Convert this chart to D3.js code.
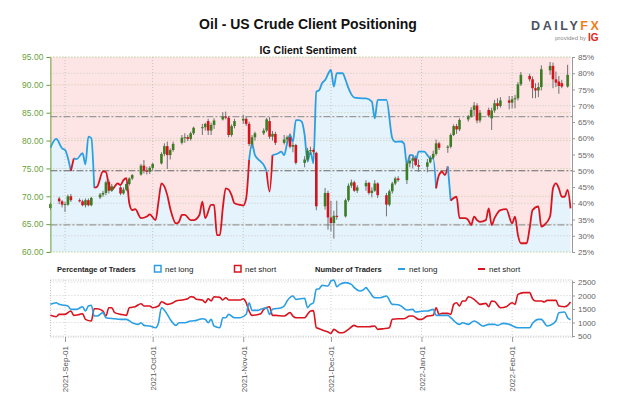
<!DOCTYPE html>
<meta charset="utf-8" />
<style>
  body { margin: 0; background: #fff; }
  text { font-family: "Liberation Sans", Arial, sans-serif; }
</style>
<svg width="624" height="416"></svg>
<script src="https://d3js.org/d3.v7.min.js"></script>
<script>
  // ---------- data ----------
  var priceTicks = [60, 65, 70, 75, 80, 85, 90, 95];
  var pctTicks = [25, 30, 35, 40, 45, 50, 55, 60, 65, 70, 75, 80, 85];
  var countTicks = [500, 1000, 1500, 2000, 2500];
  var monthTicks = ["2021-09-01", "2021-10-01", "2021-11-01", "2021-12-01", "2022-01-01", "2022-02-01"];

  // daily candles (weekdays from first to last day, plus the Sunday open)
  var firstDay = "2021-08-27", lastWeekday = "2022-02-18";
  var extraDays = ["2022-02-20"];
  // [open, high, low, close]
  var ohlc = [
    [67.9,68.9,67.6,68.6],
    [69.6,69.9,68.6,69.1],[69.1,69.3,68.0,68.5],[68.5,69.0,67.2,68.6],[68.5,70.3,68.3,70.0],[70.0,70.4,69.0,69.3],
    [69.3,69.6,68.9,69.1],[69.1,69.4,68.2,68.4],[68.4,69.6,68.0,69.3],[69.3,69.6,68.2,68.4],[68.4,69.9,68.2,69.7],
    [69.8,70.6,69.5,70.3],[70.3,71.0,69.9,70.6],[70.6,72.8,70.2,72.5],[72.6,73.0,70.5,71.0],[71.0,72.2,70.8,71.8],
    [71.6,71.8,70.2,70.5],[70.5,71.6,70.3,71.2],[71.2,72.5,70.9,72.2],[72.2,73.4,71.9,73.2],[73.2,74.0,72.9,73.8],
    [73.9,75.8,73.7,75.5],[75.5,76.5,74.1,74.6],[74.6,75.3,73.9,74.4],[74.4,75.4,74.0,75.1],[75.1,76.0,74.6,75.8],
    [75.9,77.9,75.7,77.6],[77.6,79.5,77.2,79.0],[79.0,79.8,74.9,77.4],[77.4,78.6,76.6,78.3],[78.3,79.8,78.0,79.4],
    [79.6,81.0,79.3,80.5],[80.5,81.3,79.6,80.6],[80.6,81.0,79.9,80.3],[80.3,81.6,80.0,81.3],[81.3,82.5,81.0,82.3],
    [82.3,83.0,81.0,82.4],[82.4,83.2,81.8,83.0],[83.5,83.9,81.0,81.8],[81.8,83.2,81.0,82.8],[82.8,84.0,82.1,83.6],
    [83.8,85.1,83.6,84.3],[84.3,85.2,83.8,84.1],[84.1,84.4,80.6,81.0],[81.0,82.9,80.7,82.6],[82.6,83.9,82.2,83.5],
    [83.6,84.6,83.0,83.9],[83.9,84.3,82.6,83.0],[83.0,83.4,79.0,79.4],[79.3,81.0,78.6,80.6],[80.6,81.6,80.0,81.3],
    [81.3,82.2,81.0,81.8],[81.8,84.1,81.5,83.8],[83.5,84.2,80.3,80.7],[80.7,81.7,80.0,81.2],[81.2,81.6,79.2,79.6],
    [79.6,81.0,79.3,80.2],[80.2,80.9,79.6,80.6],[80.6,81.3,78.6,78.9],[78.9,79.6,77.9,79.2],[79.2,79.4,75.7,76.0],
    [76.0,77.2,75.2,76.6],[76.6,78.7,76.3,78.2],[78.2,78.9,77.4,78.3],[78.3,78.6,77.6,78.0],[77.8,78.0,67.5,68.2],
    [68.2,71.5,67.6,70.6],[70.6,71.0,64.0,66.2],[66.2,69.2,63.7,65.2],[65.2,67.4,62.4,66.5],[66.5,69.2,65.8,66.3],
    [66.4,69.6,66.2,69.3],[69.3,72.3,69.0,71.9],[71.9,73.0,71.5,72.5],[72.5,72.8,70.8,71.0],[71.0,72.0,70.6,71.6],
    [71.8,72.9,71.0,72.4],[72.4,72.6,70.3,70.6],[70.6,71.6,69.8,71.0],[71.0,72.9,70.8,72.3],[72.3,72.5,69.7,70.2],
    [70.2,70.6,66.4,68.5],[68.5,71.2,68.2,70.9],[70.9,72.6,70.5,72.3],[72.3,73.5,72.0,73.2],[73.2,73.6,72.6,72.9],
    [72.9,76.3,72.2,75.9],[75.9,77.4,75.2,76.4],[76.4,77.2,75.0,76.8],[76.8,77.3,75.4,75.6],[75.6,76.6,74.4,75.3],
    [75.3,76.7,74.3,76.1],[76.1,77.3,75.9,76.9],[76.9,78.2,76.6,77.6],[77.6,80.2,77.3,79.5],[79.5,79.8,78.3,78.7],
    [78.7,79.2,77.8,78.9],[78.9,81.3,78.6,81.0],[81.0,82.9,80.8,82.6],[82.6,83.0,81.2,82.0],[82.0,84.0,81.7,83.7],
    [83.8,84.6,83.4,84.3],[84.3,86.0,84.1,85.5],[85.5,86.9,84.4,86.3],[86.3,86.7,83.1,83.6],[83.6,85.5,83.2,85.0],
    [85.5,85.9,84.2,84.5],[84.0,85.9,81.9,85.4],[85.4,87.3,85.0,86.7],[86.7,87.6,85.6,86.2],[86.2,87.8,85.9,87.2],
    [87.2,88.0,85.6,86.8],[86.8,88.0,85.8,87.4],[87.4,88.2,85.8,87.6],[87.6,90.5,87.2,90.1],[90.1,92.3,89.8,91.8],
    [91.6,92.0,90.6,91.0],[91.0,91.5,87.6,89.4],[89.4,90.3,87.6,89.0],[89.0,90.4,87.8,89.6],[89.6,93.5,89.0,92.8],
    [92.6,94.1,91.8,93.4],[93.4,94.0,89.4,91.0],[91.0,92.4,89.6,90.4],[90.6,91.6,88.4,89.8],[90.3,90.9,89.4,89.7],
    [89.7,93.6,89.5,91.8]
  ];

  // % of traders net long
  var pctDates = [
    "2021-08-27","2021-08-29","2021-08-31","2021-09-01","2021-09-03","2021-09-04","2021-09-05","2021-09-07","2021-09-08","2021-09-09",
    "2021-09-10","2021-09-11","2021-09-12","2021-09-14","2021-09-15","2021-09-16","2021-09-17","2021-09-18","2021-09-19","2021-09-20",
    "2021-09-21","2021-09-22","2021-09-23","2021-09-24","2021-09-25","2021-09-27","2021-09-29","2021-09-30","2021-10-02","2021-10-03",
    "2021-10-04","2021-10-06","2021-10-07","2021-10-09","2021-10-10","2021-10-11","2021-10-12","2021-10-14","2021-10-15","2021-10-17",
    "2021-10-18","2021-10-19","2021-10-21","2021-10-22","2021-10-23","2021-10-24","2021-10-25","2021-10-26","2021-10-27","2021-10-28",
    "2021-10-29","2021-10-31","2021-11-01","2021-11-02","2021-11-03","2021-11-04","2021-11-05","2021-11-07","2021-11-08","2021-11-09",
    "2021-11-10","2021-11-11","2021-11-13","2021-11-14","2021-11-15","2021-11-16","2021-11-17","2021-11-18","2021-11-19","2021-11-20",
    "2021-11-21","2021-11-22","2021-11-23","2021-11-24","2021-11-25","2021-11-26","2021-11-27","2021-11-28","2021-11-29","2021-12-01",
    "2021-12-02","2021-12-03","2021-12-05","2021-12-06","2021-12-07","2021-12-08","2021-12-09","2021-12-12","2021-12-13","2021-12-15",
    "2021-12-16","2021-12-17","2021-12-20","2021-12-22","2021-12-23","2021-12-25","2021-12-26","2021-12-27","2021-12-28","2021-12-29",
    "2021-12-30","2021-12-31","2022-01-02","2022-01-03","2022-01-04","2022-01-05","2022-01-06","2022-01-07","2022-01-08","2022-01-09",
    "2022-01-10","2022-01-11","2022-01-13","2022-01-14","2022-01-16","2022-01-17","2022-01-18","2022-01-19","2022-01-20","2022-01-21",
    "2022-01-23","2022-01-24","2022-01-25","2022-01-26","2022-01-28","2022-01-30","2022-02-01","2022-02-02","2022-02-03","2022-02-04",
    "2022-02-06","2022-02-07","2022-02-08","2022-02-10","2022-02-11","2022-02-12","2022-02-14","2022-02-15","2022-02-16","2022-02-17",
    "2022-02-18","2022-02-19","2022-02-20","2022-02-21"
  ];
  var pctLong = [
    57.1,59.8,56.9,56.4,49.9,53.8,53.6,55.4,52.0,60.5,
    60.0,44.8,45.1,49.8,49.6,45.6,44.1,45.1,46.1,45.6,
    47.1,47.7,40.0,37.9,38.2,35.4,35.9,36.6,34.8,40.5,
    46.1,42.5,38.4,33.8,34.3,36.4,36.4,34.8,34.8,36.4,
    40.5,35.4,39.5,39.5,30.2,30.2,38.5,44.6,44.2,42.5,
    40.0,39.5,39.3,41.5,53.3,58.4,54.8,52.8,51.8,49.7,
    43.6,54.8,55.4,55.9,54.8,58.4,61.0,58.9,65.6,65.6,
    65.1,61.0,52.8,55.9,52.3,74.3,74.8,77.0,77.9,81.0,
    75.9,80.0,80.0,78.0,75.4,73.5,72.5,72.3,72.3,71.3,
    66.1,71.8,71.8,60.0,58.9,59.0,58.4,51.8,54.8,54.8,
    52.8,55.9,55.9,54.8,53.8,53.8,44.6,48.7,49.7,48.7,
    51.3,40.8,42.0,35.4,35.4,34.8,33.3,35.9,34.8,34.3,
    34.8,38.4,33.3,35.4,37.9,38.2,33.8,35.9,30.2,27.7,
    27.7,32.3,37.9,39.0,32.8,33.3,35.9,44.6,46.1,44.6,
    42.0,42.0,44.1,38.4
  ];

  // number of traders net long
  var longDates = [
    "2021-08-27","2021-08-29","2021-08-30","2021-09-02","2021-09-03","2021-09-05","2021-09-07","2021-09-08","2021-09-09","2021-09-10",
    "2021-09-11","2021-09-12","2021-09-14","2021-09-15","2021-09-18","2021-09-20","2021-09-22","2021-09-24","2021-09-26","2021-09-27",
    "2021-09-28","2021-09-30","2021-10-02","2021-10-03","2021-10-04","2021-10-06","2021-10-07","2021-10-09","2021-10-10","2021-10-12",
    "2021-10-14","2021-10-16","2021-10-18","2021-10-19","2021-10-20","2021-10-21","2021-10-22","2021-10-24","2021-10-25","2021-10-26",
    "2021-10-27","2021-10-29","2021-10-31","2021-11-02","2021-11-03","2021-11-04","2021-11-06","2021-11-07","2021-11-09","2021-11-10",
    "2021-11-11","2021-11-14","2021-11-15","2021-11-16","2021-11-18","2021-11-19","2021-11-22","2021-11-23","2021-11-24","2021-11-25",
    "2021-11-26","2021-11-27","2021-11-28","2021-11-30","2021-12-01","2021-12-02","2021-12-03","2021-12-04","2021-12-06","2021-12-08",
    "2021-12-09","2021-12-11","2021-12-12","2021-12-13","2021-12-14","2021-12-16","2021-12-18","2021-12-20","2021-12-22","2021-12-24",
    "2021-12-25","2021-12-27","2021-12-29","2021-12-30","2022-01-02","2022-01-03","2022-01-05","2022-01-06","2022-01-08","2022-01-10",
    "2022-01-11","2022-01-14","2022-01-15","2022-01-17","2022-01-19","2022-01-21","2022-01-22","2022-01-24","2022-01-26","2022-01-27",
    "2022-01-29","2022-01-31","2022-02-03","2022-02-05","2022-02-07","2022-02-08","2022-02-10","2022-02-11","2022-02-13","2022-02-14",
    "2022-02-16","2022-02-17","2022-02-19","2022-02-20","2022-02-21"
  ];
  var longCount = [
    1672,1734,1672,1611,1487,1487,1586,1425,1611,1640,
    1240,1240,1364,1178,1141,1117,1117,993,931,993,
    894,870,808,993,1549,1302,1117,894,993,993,
    1055,1079,1141,1117,993,1117,870,808,1178,1178,
    1302,1178,1178,1302,1734,1450,1450,1487,1549,1302,
    1487,1549,1611,1796,1981,1858,1900,1549,1672,1734,
    2228,2253,2376,2352,2537,2574,2327,2413,2475,2413,
    2290,2166,2203,2290,2166,1919,1919,1981,1672,1660,
    1611,1462,1487,1388,1425,1425,1487,1265,1265,1265,
    1178,931,993,931,1055,931,870,931,931,894,
    968,931,808,808,808,968,1117,1117,870,894,
    1055,1364,1388,1178,1100
  ];

  // number of traders net short
  var shortDates = [
    "2021-08-27","2021-08-29","2021-08-30","2021-09-01","2021-09-03","2021-09-04","2021-09-06","2021-09-07","2021-09-08","2021-09-10",
    "2021-09-11","2021-09-12","2021-09-14","2021-09-15","2021-09-16","2021-09-17","2021-09-18","2021-09-20","2021-09-22","2021-09-23",
    "2021-09-25","2021-09-27","2021-09-28","2021-09-30","2021-10-01","2021-10-03","2021-10-04","2021-10-06","2021-10-08","2021-10-09",
    "2021-10-11","2021-10-13","2021-10-14","2021-10-15","2021-10-16","2021-10-18","2021-10-19","2021-10-20","2021-10-21","2021-10-22",
    "2021-10-24","2021-10-25","2021-10-26","2021-10-27","2021-10-29","2021-10-31","2021-11-01","2021-11-02","2021-11-03","2021-11-04",
    "2021-11-07","2021-11-08","2021-11-10","2021-11-11","2021-11-12","2021-11-15","2021-11-17","2021-11-18","2021-11-19","2021-11-22",
    "2021-11-23","2021-11-24","2021-11-25","2021-11-26","2021-11-27","2021-11-28","2021-11-30","2021-12-01","2021-12-02","2021-12-04",
    "2021-12-05","2021-12-07","2021-12-09","2021-12-10","2021-12-13","2021-12-14","2021-12-16","2021-12-17","2021-12-19","2021-12-21",
    "2021-12-22","2021-12-24","2021-12-26","2021-12-28","2021-12-29","2021-12-31","2022-01-01","2022-01-03","2022-01-05","2022-01-06",
    "2022-01-07","2022-01-08","2022-01-10","2022-01-11","2022-01-12","2022-01-13","2022-01-14","2022-01-15","2022-01-16","2022-01-17",
    "2022-01-19","2022-01-20","2022-01-21","2022-01-23","2022-01-24","2022-01-25","2022-01-26","2022-01-28","2022-01-30","2022-02-01",
    "2022-02-02","2022-02-03","2022-02-05","2022-02-07","2022-02-08","2022-02-09","2022-02-11","2022-02-12","2022-02-13","2022-02-16",
    "2022-02-17","2022-02-19","2022-02-20","2022-02-21"
  ];
  var shortCount = [
    1265,1215,1302,1302,1425,1265,1302,1326,1117,1055,
    1512,1512,1425,1240,1549,1549,1364,1302,1265,1549,
    1586,1697,1611,1611,1549,1611,1771,1672,1734,1796,
    1833,1882,1956,1940,1858,1833,1734,1882,1796,1956,
    1930,1833,1919,1833,1833,1833,1882,1734,1425,1265,
    1326,1487,1586,1265,1265,1240,1364,1240,1178,1178,
    1302,1425,1440,808,771,721,647,598,746,623,
    623,746,894,845,845,845,870,746,771,808,
    1117,1141,1141,1240,1240,1117,1117,1240,1265,1549,
    1302,1339,1339,1302,1672,1734,1611,1796,1796,1956,
    1858,1759,1672,1709,1586,1796,1780,1549,1586,1734,
    1672,2043,2105,2105,1882,1796,1796,1759,1821,1821,
    1611,1586,1635,1759
  ];

  // ---------- setup ----------
  var svg = d3.select("svg");
  var parse = d3.utcParse("%Y-%m-%d");
  var blue = "#2a9fe3", red = "#d8141f";
  var up = "#3b7d22", down = "#d3141c";
  var green = "#6a9f3c";

  var tradeDays = d3.utcDay
    .range(parse(firstDay), d3.utcDay.offset(parse(lastWeekday), 1))
    .filter(function (d) { return d.getUTCDay() % 6 !== 0; })
    .concat(extraDays.map(parse));
  if (tradeDays.length !== ohlc.length) throw new Error("candles " + tradeDays.length + " vs " + ohlc.length);
  if (pctDates.length !== pctLong.length) throw new Error("pct length");
  if (longDates.length !== longCount.length) throw new Error("long length");
  if (shortDates.length !== shortCount.length) throw new Error("short length");

  var M = { left: 50.4, right: 572, top: 57, bottom: 252 };
  var L = { top: 280, bottom: 337 };

  var x = d3.scaleUtc()
    .domain([parse("2021-08-27"), d3.utcHour.offset(parse("2022-02-21"), 12)])
    .range([M.left, M.right]);
  var yPrice = d3.scaleLinear().domain([60, 95]).range([M.bottom, M.top]);
  var yPct = d3.scaleLinear().domain([25, 85]).range([M.bottom, M.top]);
  var yCnt = d3.scaleLinear().domain([463, 2574]).range([L.bottom, L.top]);

  // ---------- titles ----------
  svg.append("text").attr("x", 308).attr("y", 29).attr("text-anchor", "middle")
    .attr("font-size", 14).attr("font-weight", "bold").attr("fill", "#111")
    .text("Oil - US Crude Client Positioning");
  svg.append("text").attr("x", 308).attr("y", 54).attr("text-anchor", "middle")
    .attr("font-size", 10.5).attr("font-weight", "bold").attr("fill", "#111")
    .text("IG Client Sentiment");

  var logo = svg.append("text").attr("x", 531).attr("y", 30)
    .attr("font-size", 12.5).attr("font-weight", "bold").attr("letter-spacing", 2.6);
  logo.append("tspan").attr("fill", "#4a5262").text("DAILY");
  logo.append("tspan").attr("fill", "#f07d1a").text("FX");
  svg.append("text").attr("x", 586).attr("y", 40).attr("text-anchor", "end")
    .attr("font-size", 6).attr("fill", "#888").text("provided by");
  svg.append("text").attr("x", 588).attr("y", 41)
    .attr("font-size", 10).attr("font-weight", "bold").attr("fill", "#e2231a").text("IG");

  // ---------- main panel ----------
  var pts = pctDates.map(function (d, i) { return { t: parse(d), v: pctLong[i] }; });
  var curve = d3.curveMonotoneX;

  svg.append("path").datum(pts)
    .attr("fill", "#fde5e5")
    .attr("d", d3.area().curve(curve).x(function (d) { return x(d.t); })
      .y0(M.top).y1(function (d) { return yPct(d.v); }));
  svg.append("path").datum(pts)
    .attr("fill", "#e5f3fd")
    .attr("d", d3.area().curve(curve).x(function (d) { return x(d.t); })
      .y0(M.bottom).y1(function (d) { return yPct(d.v); }));

  var grid = svg.append("g").attr("fill", "none");
  // percentage grid
  grid.selectAll("line.pg").data([30, 40, 60, 70, 80]).join("line")
    .attr("x1", M.left).attr("x2", M.right)
    .attr("y1", function (d) { return yPct(d); }).attr("y2", function (d) { return yPct(d); })
    .attr("stroke", "#c8c8c8").attr("stroke-dasharray", "1,2");
  // price grid
  grid.selectAll("line.prg").data(priceTicks).join("line")
    .attr("x1", M.left).attr("x2", M.right)
    .attr("y1", function (d) { return yPrice(d); }).attr("y2", function (d) { return yPrice(d); })
    .attr("stroke", function (d) { return d === 60 || d === 95 ? "#9dbf72" : "#c9c9a2"; })
    .attr("stroke-dasharray", "1,2");
  // month grid
  grid.selectAll("line.vg").data(monthTicks).join("line")
    .attr("x1", function (d) { return x(parse(d)); }).attr("x2", function (d) { return x(parse(d)); })
    .attr("y1", M.top).attr("y2", M.bottom)
    .attr("stroke", "#c4c4c4").attr("stroke-dasharray", "1,2");
  // sentiment reference levels
  grid.selectAll("line.ref").data([100 / 3, 50, 200 / 3]).join("line")
    .attr("x1", M.left).attr("x2", M.right)
    .attr("y1", function (d) { return yPct(d); }).attr("y2", function (d) { return yPct(d); })
    .attr("stroke", function (d) { return d === 50 ? "#666" : "#9a9a9a"; })
    .attr("stroke-width", 1.2)
    .attr("stroke-dasharray", "7,2,2,2");

  // sentiment line, coloured by majority side at each segment start
  var runs = [];
  for (var i = 0; i < pts.length - 1; i++) {
    var c = pts[i].v >= 50 ? blue : red;
    if (runs.length && runs[runs.length - 1].color === c) runs[runs.length - 1].pts.push(pts[i + 1]);
    else runs.push({ color: c, pts: [pts[i], pts[i + 1]] });
  }
  var line = d3.line().curve(curve).x(function (d) { return x(d.t); }).y(function (d) { return yPct(d.v); });
  svg.append("g").selectAll("path").data(runs).join("path")
    .attr("fill", "none").attr("stroke", function (d) { return d.color; })
    .attr("stroke-width", 1.8).attr("stroke-linejoin", "round")
    .attr("d", function (d) { return line(d.pts); });

  // candles
  var candles = tradeDays.map(function (t, i) {
    return { t: t, o: ohlc[i][0], h: ohlc[i][1], l: ohlc[i][2], c: ohlc[i][3] };
  });
  var cg = svg.append("g");
  cg.selectAll("line").data(candles).join("line")
    .attr("x1", function (d) { return x(d.t); }).attr("x2", function (d) { return x(d.t); })
    .attr("y1", function (d) { return yPrice(d.h); }).attr("y2", function (d) { return yPrice(d.l); })
    .attr("stroke", "#707070").attr("stroke-width", 1);
  cg.selectAll("rect").data(candles).join("rect")
    .attr("x", function (d) { return x(d.t) - 1.3; }).attr("width", 2.6)
    .attr("y", function (d) { return yPrice(Math.max(d.o, d.c)); })
    .attr("height", function (d) { return Math.max(1, Math.abs(yPrice(d.o) - yPrice(d.c))); })
    .attr("fill", function (d) { return d.c >= d.o ? up : down; });

  // axes
  var leftAxis = svg.append("g").attr("transform", "translate(" + M.left + ",0)")
    .call(d3.axisLeft(yPrice).tickValues(priceTicks).tickFormat(d3.format(".2f")).tickSize(4).tickSizeOuter(0));
  leftAxis.select(".domain").attr("stroke", green);
  leftAxis.selectAll(".tick line").attr("stroke", green);
  leftAxis.selectAll("text").attr("fill", green).attr("font-size", 8.5)
    .attr("font-family", "Liberation Sans, Arial, sans-serif");

  var rightAxis = svg.append("g").attr("transform", "translate(" + M.right + ",0)")
    .call(d3.axisRight(yPct).tickValues(pctTicks).tickFormat(function (d) { return d + "%"; }).tickSize(3).tickSizeOuter(0));
  rightAxis.select(".domain").attr("stroke", "#999");
  rightAxis.selectAll(".tick line").attr("stroke", "#999");
  rightAxis.selectAll("text").attr("fill", "#666").attr("font-size", 8)
    .attr("font-family", "Liberation Sans, Arial, sans-serif");

  // ---------- legend ----------
  var lg = svg.append("g").attr("font-size", 8).attr("fill", "#222");
  lg.append("text").attr("x", 57).attr("y", 272).attr("font-weight", "bold").attr("font-size", 7.5).text("Percentage of Traders");
  lg.append("rect").attr("x", 154.5).attr("y", 265.5).attr("width", 6.5).attr("height", 6.5)
    .attr("fill", "#fff").attr("stroke", blue).attr("stroke-width", 1.5);
  lg.append("text").attr("x", 165).attr("y", 272).text("net long");
  lg.append("rect").attr("x", 234.5).attr("y", 265.5).attr("width", 6.5).attr("height", 6.5)
    .attr("fill", "#fff").attr("stroke", red).attr("stroke-width", 1.5);
  lg.append("text").attr("x", 245).attr("y", 272).text("net short");
  lg.append("text").attr("x", 315).attr("y", 272).attr("font-weight", "bold").attr("font-size", 7.5).text("Number of Traders");
  lg.append("line").attr("x1", 398).attr("x2", 405).attr("y1", 269).attr("y2", 269).attr("stroke", blue).attr("stroke-width", 2);
  lg.append("text").attr("x", 409).attr("y", 272).text("net long");
  lg.append("line").attr("x1", 478).attr("x2", 485).attr("y1", 269).attr("y2", 269).attr("stroke", red).attr("stroke-width", 2);
  lg.append("text").attr("x", 489).attr("y", 272).text("net short");

  // ---------- lower panel ----------
  var lgrid = svg.append("g");
  lgrid.selectAll("line.h").data(countTicks).join("line")
    .attr("x1", M.left).attr("x2", M.right)
    .attr("y1", function (d) { return yCnt(d); }).attr("y2", function (d) { return yCnt(d); })
    .attr("stroke", "#cfcfcf").attr("stroke-dasharray", "1,2");
  lgrid.selectAll("line.b").data([L.top, L.bottom]).join("line")
    .attr("x1", M.left).attr("x2", M.right)
    .attr("y1", function (d) { return d; }).attr("y2", function (d) { return d; })
    .attr("stroke", "#bdbdbd").attr("stroke-dasharray", "1,1.5");
  lgrid.append("line").attr("x1", M.left).attr("x2", M.left).attr("y1", L.top).attr("y2", L.bottom)
    .attr("stroke", "#bdbdbd").attr("stroke-dasharray", "1,1.5");
  lgrid.selectAll("line.v").data(monthTicks).join("line")
    .attr("x1", function (d) { return x(parse(d)); }).attr("x2", function (d) { return x(parse(d)); })
    .attr("y1", L.top).attr("y2", L.bottom)
    .attr("stroke", "#cfcfcf").attr("stroke-dasharray", "1,2");

  var cline = d3.line().curve(d3.curveMonotoneX)
    .x(function (d) { return x(d.t); }).y(function (d) { return yCnt(d.v); });
  var longPts = longDates.map(function (d, i) { return { t: parse(d), v: longCount[i] }; });
  var shortPts = shortDates.map(function (d, i) { return { t: parse(d), v: shortCount[i] }; });
  svg.append("path").datum(shortPts).attr("fill", "none").attr("stroke", red).attr("stroke-width", 1.6).attr("d", cline);
  svg.append("path").datum(longPts).attr("fill", "none").attr("stroke", blue).attr("stroke-width", 1.6).attr("d", cline);

  var cntAxis = svg.append("g").attr("transform", "translate(" + M.right + ",0)")
    .call(d3.axisRight(yCnt).tickValues(countTicks).tickFormat(d3.format("d")).tickSize(3).tickSizeOuter(0));
  cntAxis.select(".domain").attr("stroke", "#999");
  cntAxis.selectAll(".tick line").attr("stroke", "#999");
  cntAxis.selectAll("text").attr("fill", "#666").attr("font-size", 8)
    .attr("font-family", "Liberation Sans, Arial, sans-serif");

  // bottom date axis
  var fmt = d3.utcFormat("%Y-%b-%d");
  var bAxis = svg.append("g").attr("transform", "translate(0," + L.bottom + ")")
    .call(d3.axisBottom(x).tickValues(monthTicks.map(parse)).tickFormat(fmt).tickSize(5).tickSizeOuter(0));
  bAxis.select(".domain").remove();
  bAxis.selectAll(".tick line").attr("stroke", "#999");
  bAxis.selectAll("text")
    .attr("transform", "rotate(-90)")
    .attr("x", -9).attr("y", 0).attr("dy", "0.35em")
    .style("text-anchor", "end")
    .attr("fill", "#555").attr("font-size", 8)
    .attr("font-family", "Liberation Sans, Arial, sans-serif");
</script>
